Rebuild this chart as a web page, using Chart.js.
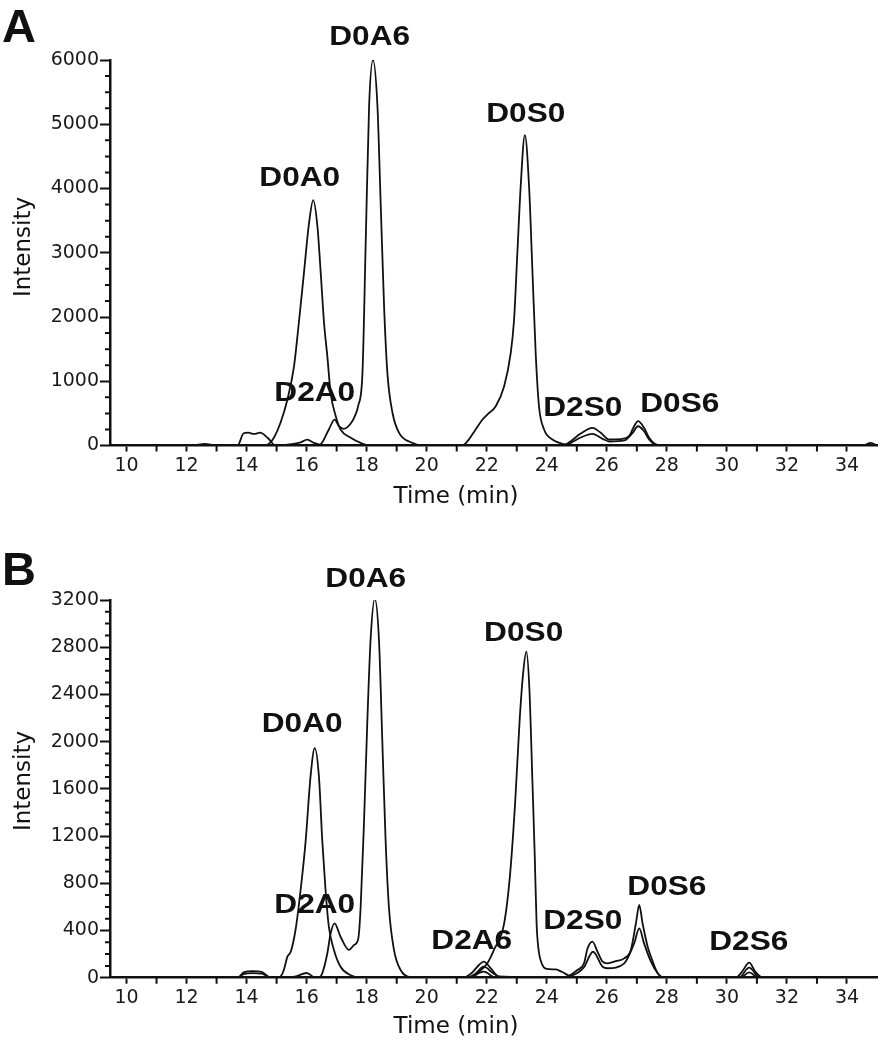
<!DOCTYPE html>
<html>
<head>
<meta charset="utf-8">
<script src="https://cdn.jsdelivr.net/npm/chart.js@4.4.1/dist/chart.umd.min.js"></script>
<style>
  html, body { margin: 0; padding: 0; background: #fff; }
  .panel { position: relative; width: 881px; }
</style>
</head>
<body>
<div class="panel" style="height:520px"><canvas id="chartA"></canvas></div>
<div class="panel" style="height:530px"><canvas id="chartB"></canvas></div>
<script>
// ---- tick labels ----
var xTicks = [10, 12, 14, 16, 18, 20, 22, 24, 26, 28, 30, 32, 34];
var yTicksA = [0, 1000, 2000, 3000, 4000, 5000, 6000];
var yTicksB = [0, 400, 800, 1200, 1600, 2000, 2400, 2800, 3200];

// ---- panel A traces (time in min, intensity) ----
var timeA1 = [9.45, 14.6, 14.75, 14.91, 15.13, 15.36, 15.58, 15.74, 15.91, 16.08, 16.22, 16.36, 16.47, 16.58, 16.69, 16.8, 16.97, 17.13, 17.47, 17.8, 18.1, 21.0, 21.19, 21.36, 21.63, 21.86, 22.02, 22.3, 22.58, 22.8, 22.91, 23.02, 23.13, 23.27, 23.41, 23.52, 23.63, 23.74, 23.91, 24.19, 24.58, 25.0, 35.0];
var intA1 = [0, 0, 30, 120, 353, 715, 1233, 1907, 2684, 3460, 3820, 3408, 2684, 1907, 1388, 819, 456, 249, 120, 40, 0, 0, 0, 67, 249, 404, 482, 611, 922, 1440, 1958, 2995, 4030, 4830, 4030, 2735, 1440, 611, 249, 93, 20, 0, 0];

var timeA2 = [9.45, 16.3, 16.47, 16.74, 16.93, 17.08, 17.24, 17.45, 17.6, 17.72, 17.86, 17.97, 18.08, 18.21, 18.36, 18.47, 18.58, 18.69, 18.86, 19.08, 19.47, 19.9, 35.0];
var intA2 = [0, 0, 20, 250, 404, 300, 259, 330, 450, 620, 1130, 3200, 5270, 6000, 5270, 3720, 2165, 1130, 510, 197, 50, 0, 0];

var timeA3 = [9.45, 12.2, 12.6, 13.0, 13.7, 13.9, 14.05, 14.25, 14.45, 14.7, 14.97, 15.5, 15.8, 16.02, 16.25, 16.6, 24.5, 24.69, 25.13, 25.52, 25.8, 26.08, 26.47, 26.74, 26.91, 27.04, 27.24, 27.41, 27.58, 27.8, 34.5, 34.8, 35.0];
var intA3 = [0, 0, 25, 0, 0, 190, 200, 180, 200, 120, 0, 20, 50, 90, 40, 0, 0, 31, 186, 275, 197, 93, 100, 145, 300, 378, 275, 120, 31, 0, 0, 40, 0];

var timeA4 = [9.45, 24.5, 24.69, 25.13, 25.52, 25.86, 26.08, 26.58, 26.86, 27.04, 27.24, 27.41, 27.58, 27.8, 35.0];
var intA4 = [0, 0, 15, 124, 181, 104, 62, 78, 197, 300, 222, 93, 20, 0, 0];

// ---- panel B traces ----
var timeB1 = [9.45, 15.0, 15.13, 15.24, 15.36, 15.47, 15.63, 15.8, 15.97, 16.13, 16.27, 16.41, 16.52, 16.63, 16.74, 16.91, 17.13, 17.47, 17.8, 21.4, 21.74, 22.02, 22.24, 22.58, 22.78, 22.95, 23.1, 23.22, 23.32, 23.42, 23.52, 23.6, 23.66, 23.72, 23.85, 24.0, 24.3, 24.5, 24.8, 25.1, 35.0];
var intB1 = [0, 0, 10, 65, 178, 220, 404, 743, 1166, 1703, 1945, 1703, 1166, 743, 432, 235, 93, 20, 0, 0, 51, 122, 235, 461, 884, 1500, 2200, 2600, 2762, 2450, 1675, 1025, 461, 250, 110, 75, 70, 50, 10, 0, 0];

var timeB2 = [9.45, 16.4, 16.52, 16.69, 16.8, 16.93, 17.13, 17.41, 17.58, 17.72, 17.8, 17.91, 18.02, 18.13, 18.27, 18.41, 18.52, 18.63, 18.74, 18.91, 19.13, 19.47, 35.0];
var intB2 = [0, 0, 37, 207, 376, 461, 347, 235, 277, 330, 601, 1308, 2155, 2861, 3210, 2861, 2014, 1166, 601, 235, 65, 5, 0];

var timeB3 = [9.45, 13.7, 13.9, 14.2, 14.5, 14.8, 15.6, 16.0, 16.3, 21.2, 21.5, 21.75, 21.9, 22.1, 22.4, 24.5, 24.8, 25.02, 25.24, 25.36, 25.52, 25.69, 25.86, 26.02, 26.3, 26.58, 26.8, 26.97, 27.08, 27.19, 27.36, 27.47, 27.69, 27.9, 30.3, 30.5, 30.74, 30.95, 31.2, 35.0];
var intB3 = [0, 0, 45, 55, 50, 0, 10, 40, 0, 0, 40, 110, 136, 90, 10, 0, 25, 65, 122, 249, 305, 220, 136, 122, 140, 164, 235, 461, 616, 461, 263, 178, 40, 0, 0, 50, 127, 50, 0, 0];

var timeB4 = [9.45, 13.7, 13.9, 14.2, 14.5, 14.8, 21.3, 21.6, 21.9, 22.2, 22.5, 24.5, 24.8, 25.02, 25.24, 25.54, 25.86, 26.02, 26.58, 26.91, 27.08, 27.24, 27.47, 27.69, 27.9, 30.4, 30.74, 31.1, 35.0];
var intB4 = [0, 0, 30, 38, 35, 0, 0, 30, 93, 40, 0, 0, 15, 40, 90, 220, 93, 80, 122, 291, 418, 291, 136, 40, 0, 0, 85, 0, 0];

var timeB5 = [9.45, 21.4, 21.9, 22.3, 30.45, 30.74, 31.05, 35.0];
var intB5 = [0, 0, 51, 0, 0, 45, 0, 0];

// ---- peak names ----
var peakNamesA = ['D0A0', 'D0A6', 'D2A0', 'D0S0', 'D2S0', 'D0S6'];
var peakNamesB = ['D0A0', 'D0A6', 'D2A0', 'D2A6', 'D0S0', 'D2S0', 'D0S6', 'D2S6'];

// label anchors in data units (time, intensity)
var labelAtA = [[15.77, 4194], [18.1, 6388], [16.27, 848], [23.3, 5190], [25.2, 615], [28.43, 677]];
var labelAtB = [[15.85, 2166], [17.97, 3395], [16.27, 633], [21.5, 328], [23.23, 2937], [25.2, 497], [28.0, 785], [30.73, 319]];

function toPoints(t, v) {
  return t.map(function (x, i) { return { x: x, y: v[i] }; });
}

function trace(t, v) {
  return {
    data: toPoints(t, v),
    borderColor: '#111',
    borderWidth: 1.8,
    pointRadius: 0,
    fill: false,
    cubicInterpolationMode: 'monotone'
  };
}

var decor = {
  id: 'decor',
  afterDraw: function (chart, args, o) {
    var ctx = chart.ctx, a = chart.chartArea, xs = chart.scales.x, ys = chart.scales.y;
    ctx.save();
    // minor ticks
    ctx.strokeStyle = '#111';
    ctx.lineWidth = 2;
    ctx.beginPath();
    for (var v = o.minorStep; v < ys.max; v += o.minorStep) {
      if (v % o.majorStep === 0) continue;
      var py = ys.getPixelForValue(v);
      ctx.moveTo(a.left - 5, py);
      ctx.lineTo(a.left, py);
    }
    for (var t = 11; t < xs.max; t += 2) {
      var px = xs.getPixelForValue(t);
      ctx.moveTo(px, a.bottom);
      ctx.lineTo(px, a.bottom + 6);
    }
    ctx.stroke();

    ctx.fillStyle = '#111';
    // peak names
    ctx.font = 'bold 28px "Liberation Sans", Arial, sans-serif';
    ctx.textAlign = 'center';
    ctx.textBaseline = 'alphabetic';
    o.names.forEach(function (name, i) {
      var p = o.at[i];
      ctx.save();
      ctx.translate(xs.getPixelForValue(p[0]), ys.getPixelForValue(p[1]) + 10);
      ctx.scale(1.13, 1);
      ctx.fillText(name, 0, 0);
      ctx.restore();
    });
    // panel letter
    ctx.font = 'bold 47px "Liberation Sans", Arial, sans-serif';
    ctx.textAlign = 'left';
    ctx.fillText(o.letter, 2, o.letterY);
    // axis titles
    ctx.font = '23px "DejaVu Sans", sans-serif';
    ctx.textAlign = 'center';
    ctx.textBaseline = 'middle';
    ctx.fillText('Time (min)', 456, o.xTitleY);
    ctx.save();
    ctx.translate(24, o.yTitleY);
    ctx.rotate(-Math.PI / 2);
    ctx.fillText('Intensity', 0, 0);
    ctx.restore();
    ctx.restore();
  }
};

function makeChart(id, datasets, yTicks, minorStep, padTop, xHeight, deco) {
  var yMax = yTicks[yTicks.length - 1];
  return new Chart(document.getElementById(id), {
    type: 'line',
    data: { datasets: datasets },
    options: {
      responsive: true,
      maintainAspectRatio: false,
      animation: false,
      layout: { padding: { top: padTop, right: 4, left: 0, bottom: 0 } },
      plugins: { legend: { display: false }, tooltip: { enabled: false }, decor: deco },
      scales: {
        x: {
          type: 'linear',
          bounds: 'data',
          min: 9.45,
          max: 35,
          afterBuildTicks: function (s) { s.ticks = xTicks.map(function (v) { return { value: v }; }); },
          afterFit: function (s) { s.height = xHeight; },
          grid: { drawOnChartArea: false, drawTicks: true, tickLength: 6, tickWidth: 2, tickColor: '#111', color: '#111' },
          border: { display: true, color: '#111', width: 2.5 },
          ticks: {
            autoSkip: false, maxRotation: 0, padding: 3, color: '#1a1a1a',
            font: { family: 'DejaVu Sans', size: 19 },
            callback: function (v) { return String(v); }
          }
        },
        y: {
          type: 'linear',
          bounds: 'data',
          min: 0,
          max: yMax,
          afterBuildTicks: function (s) { s.ticks = yTicks.map(function (v) { return { value: v }; }); },
          afterFit: function (s) { s.width = 110; },
          grid: { drawOnChartArea: false, drawTicks: true, tickLength: 10, tickWidth: 2, tickColor: '#111', color: '#111' },
          border: { display: true, color: '#111', width: 2.5 },
          ticks: {
            autoSkip: false, padding: 1, color: '#1a1a1a',
            font: { family: 'DejaVu Sans', size: 19 },
            callback: function (v) { return String(v); }
          }
        }
      }
    },
    plugins: [decor]
  });
}

makeChart('chartA', [
  trace(timeA1, intA1), trace(timeA2, intA2), trace(timeA3, intA3), trace(timeA4, intA4)
], yTicksA, 250, 60, 74.5, {
  names: peakNamesA, at: labelAtA, minorStep: 250, majorStep: 1000,
  letter: 'A', letterY: 42, xTitleY: 497, yTitleY: 247
});

makeChart('chartB', [
  trace(timeB1, intB1), trace(timeB2, intB2), trace(timeB3, intB3), trace(timeB4, intB4), trace(timeB5, intB5)
], yTicksB, 100, 80, 72.3, {
  names: peakNamesB, at: labelAtB, minorStep: 100, majorStep: 400,
  letter: 'B', letterY: 65, xTitleY: 507, yTitleY: 261
});
</script>
</body>
</html>
